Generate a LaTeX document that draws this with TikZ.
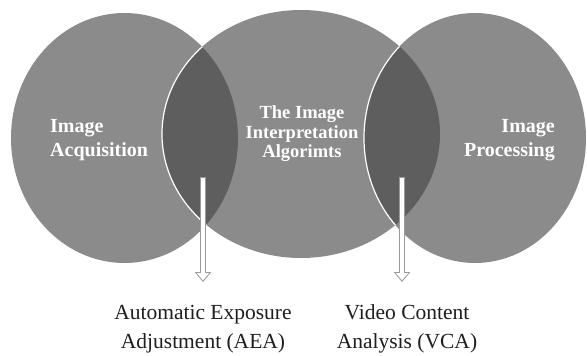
\documentclass[tikz,border=0pt]{standalone}
\usepackage{fontspec}
\setmainfont{Liberation Serif}
\usetikzlibrary{arrows.meta}
\definecolor{circ}{HTML}{8B8B8B}
\definecolor{lensc}{HTML}{5E5E5E}
\definecolor{arrc}{HTML}{9A9A9A}
\definecolor{txt}{HTML}{1E1E1E}
\begin{document}
\begin{tikzpicture}[x=1pt,y=-1pt,
  intext/.style={text=white, font=\bfseries\fontsize{20}{24}\selectfont, inner sep=0pt},
  midtext/.style={text=white, font=\bfseries\fontsize{18.5}{19.5}\selectfont, inner sep=0pt, align=center},
  outtext/.style={text=txt, font=\fontsize{21.5}{29}\selectfont, inner sep=0pt, align=center},
  arrout/.style={arrc, line width=6pt, -{Triangle[length=10pt,width=16pt]}},
  arrin/.style={white, line width=4pt, -{Triangle[length=7.4pt,width=12pt]}},
  rim/.style={white, line width=1.2pt}]
\useasboundingbox (0,0) rectangle (587,356);
\def\Lell{(124.5,138) ellipse [x radius=113.5pt, y radius=125pt]}
\def\Mell{(301,134) ellipse [x radius=139pt, y radius=124pt]}
\def\Rell{(475,138) ellipse [x radius=111pt, y radius=125pt]}
% circles
\fill[circ] \Lell;
\fill[circ] \Mell;
\fill[circ] \Rell;
% overlaps
\begin{scope}
  \clip \Lell;
  \fill[lensc] \Mell;
  \draw[rim] \Mell;
\end{scope}
\begin{scope}
  \clip \Mell;
  \fill[lensc] \Rell;
  \draw[rim] \Rell;
\end{scope}
% labels in circles
\node[intext, align=left, anchor=west] (acq) at (50,140) {Image\\Acquisition};
\node[midtext] (alg) at (302,134) {The Image\\Interpretation\\Algorimts};
\node[intext, align=right, anchor=east] (proc) at (555,140) {Image\\Processing};
% labels below
\node[outtext] (aea) at (203,329) {Automatic Exposure\\Adjustment (AEA)};
\node[outtext] (vca) at (407,329) {Video Content\\Analysis (VCA)};
% arrows
\coordinate (s1) at (203,177);
\coordinate (e1) at (203,282);
\coordinate (s2) at (402,177);
\coordinate (e2) at (402,282);
\draw[arrout] (s1) -- (e1);
\draw[arrin] ([yshift=-1pt]s1) -- ([yshift=1.6pt]e1);
\draw[arrout] (s2) -- (e2);
\draw[arrin] ([yshift=-1pt]s2) -- ([yshift=1.6pt]e2);
\end{tikzpicture}
\end{document}
